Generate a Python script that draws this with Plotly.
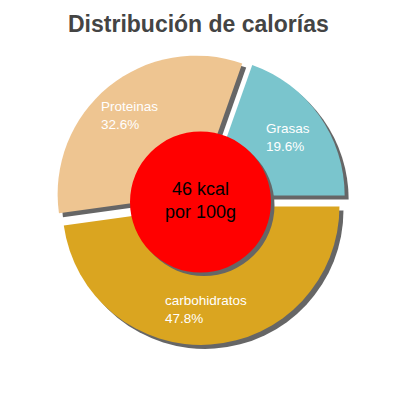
import math
import plotly.graph_objects as go

# data
labels = ["Grasas", "carbohidratos", "Proteinas"]
values = [19.6, 47.8, 32.6]
colors = ["#7AC5CD", "#DAA520", "#EEC591"]
energy_label = "46 kcal<br>por 100g"

W = H = 400
OFF = 8                    # page body margin shifts the whole figure
cx, cy = 200.5 - OFF, 199.5 - OFF   # pie centre, px
r = 138.5                  # pie radius, px
pull = 0.05
shadow = 4                 # px offset of the grey shadow

total = sum(values)
rotation = 90 - 360 * values[0] / total   # first slice ends at 3 o'clock


def dom(dx=0, dy=0):
    half = r * (1 + pull)
    return dict(x=[(cx - half + dx) / W, (cx + half + dx) / W],
                y=[1 - (cy + half + dy) / H, 1 - (cy - half + dy) / H])


fig = go.Figure()

# shadow pie
fig.add_trace(go.Pie(
    labels=labels, values=values, sort=False, direction="clockwise",
    rotation=rotation, pull=pull, domain=dom(shadow, shadow),
    marker=dict(colors=["#666666"] * 3, line=dict(width=0)),
    textinfo="none", hoverinfo="skip", showlegend=False,
))

# main pie
fig.add_trace(go.Pie(
    labels=labels, values=values, sort=False, direction="clockwise",
    rotation=rotation, pull=pull, domain=dom(),
    marker=dict(colors=colors, line=dict(width=0)),
    textinfo="none", showlegend=False,
))

# slice labels placed along each slice's middle angle
start = rotation
for lab, v in zip(labels, values):
    ang = math.radians(start + 180 * v / total)
    start += 360 * v / total
    rr = r * (0.74 + pull)
    px = cx + rr * math.sin(ang) - 2
    py = cy - rr * math.cos(ang) + 1
    fig.add_annotation(
        x=px / W, y=1 - py / H, xref="paper", yref="paper",
        text=f"{lab}<br>{v:.1f}%", showarrow=False, align="left",
        xanchor="center", yanchor="middle",
        font=dict(family="Liberation Sans, Arial", size=13.5, color="white"),
    )

# red centre disc with shadow
rc, ccx, ccy = 70.5, 200.5 - OFF, 202 - OFF
for off, col in [(3.5, "#666666"), (0, "#FF0000")]:
    fig.add_shape(
        type="circle", xref="paper", yref="paper",
        x0=(ccx - rc + off) / W, x1=(ccx + rc + off) / W,
        y0=1 - (ccy + rc + off) / H, y1=1 - (ccy - rc + off) / H,
        fillcolor=col, line=dict(width=0),
    )

fig.add_annotation(
    x=ccx / W, y=1 - (200 - OFF) / H, xref="paper", yref="paper",
    text=energy_label, showarrow=False,
    font=dict(family="Liberation Sans, Arial", size=18, color="black"),
)

# title as an annotation so it sits just under the top edge
fig.add_annotation(
    x=(198 - OFF) / W, y=1, xref="paper", yref="paper",
    xanchor="center", yanchor="top", yshift=-1, showarrow=False,
    text="<b>Distribución de calorías</b>",
    font=dict(family="Liberation Sans, Arial", size=23, color="#444444"),
)

fig.update_layout(
    width=W, height=H,
    margin=dict(l=0, r=0, t=0, b=0),
    paper_bgcolor="white", plot_bgcolor="white",
)

fig.write_html("out.html")
